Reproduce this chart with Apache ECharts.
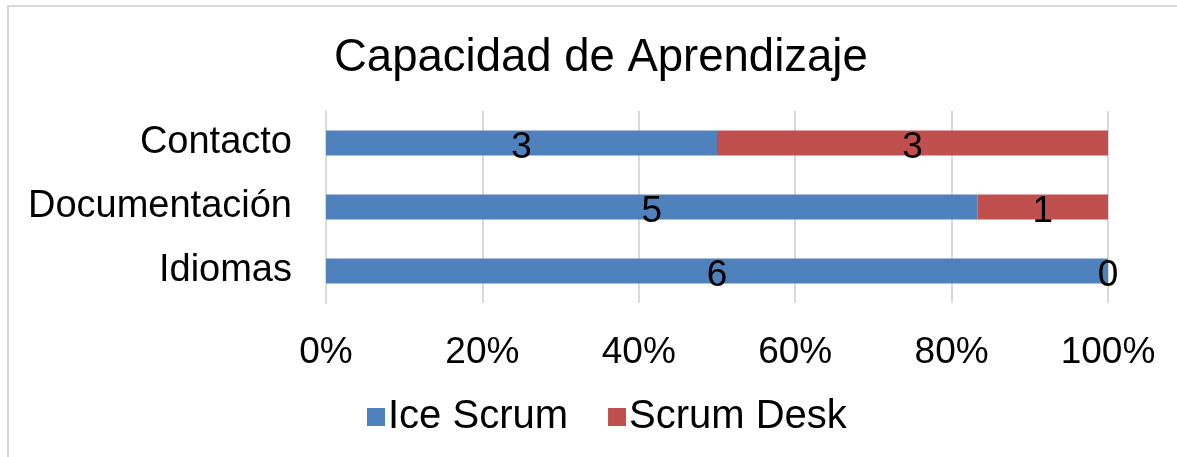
<!DOCTYPE html>
<html>
<head>
<meta charset="utf-8">
<script src="https://cdn.jsdelivr.net/npm/echarts@6/dist/echarts.min.js"></script>
<style>
html, body { margin: 0; padding: 0; background: #fff; overflow: hidden; }
#frame { position: absolute; left: 7px; top: 5px; width: 1300px; height: 600px;
         border-left: 2px solid #d9d9d9; border-top: 2px solid #d9d9d9; }
#chart { position: absolute; left: 0; top: 0; width: 1177px; height: 457px; }
</style>
</head>
<body>
<div id="frame"></div>
<div id="chart"></div>
<script>
// categorias de arriba hacia abajo
var categories = ['Contacto', 'Documentación', 'Idiomas'];
var seriesNames = ['Ice Scrum', 'Scrum Desk'];
// conteos por categoria
var iceScrum = [3, 5, 6];
var scrumDesk = [3, 1, 0];
var xTicks = [0, 20, 40, 60, 80, 100];

function toPercent(a, b) {
    var out = [];
    for (var i = 0; i < a.length; i++) {
        var total = a[i] + b[i];
        out.push({ value: total ? a[i] / total * 100 : 0, count: a[i] });
    }
    return out;
}

var fontFam = '"Liberation Sans", Arial, sans-serif';
var chart = echarts.init(document.getElementById('chart'));
var option = {
    animation: false,
    color: ['#4f81bd', '#c0504d'],
    textStyle: { fontFamily: fontFam, color: '#000' },
    title: {
        text: 'Capacidad de Aprendizaje',
        left: 329,
        top: 30,
        textStyle: { fontFamily: fontFam, fontSize: 45.5, fontWeight: 'normal', color: '#000' }
    },
    legend: {
        data: seriesNames,
        left: 362,
        top: 392,
        itemWidth: 18,
        itemHeight: 18,
        itemGap: 40,
        icon: 'rect',
        textStyle: { fontFamily: fontFam, fontSize: 40, color: '#000', padding: [0, 0, 0, -2] }
    },
    grid: { left: 326, right: 69, top: 111, bottom: 154 },
    xAxis: {
        type: 'value',
        min: xTicks[0],
        max: xTicks[xTicks.length - 1],
        interval: 20,
        axisLine: { show: false },
        axisTick: { show: false },
        splitLine: { lineStyle: { color: '#d9d9d9', width: 2 } },
        axisLabel: { formatter: '{value}%', fontSize: 37, color: '#000', fontFamily: fontFam, margin: 31 }
    },
    yAxis: {
        type: 'category',
        inverse: true,
        data: categories,
        axisLine: { lineStyle: { color: '#d9d9d9', width: 2 } },
        axisTick: { show: false },
        axisLabel: { fontSize: 38, color: '#000', fontFamily: fontFam, margin: 34, padding: [4, 0, 0, 0] }
    },
    series: [
        {
            name: seriesNames[0],
            type: 'bar',
            stack: 'total',
            barWidth: 25,
            data: toPercent(iceScrum, scrumDesk),
            label: {
                show: true, position: 'inside', fontSize: 37, color: '#000', fontFamily: fontFam,
                offset: [0, 5],
                formatter: function (p) { return p.data.count; }
            }
        },
        {
            name: seriesNames[1],
            type: 'bar',
            stack: 'total',
            barWidth: 25,
            data: toPercent(scrumDesk, iceScrum),
            label: {
                show: true, position: 'inside', fontSize: 37, color: '#000', fontFamily: fontFam,
                offset: [0, 5],
                formatter: function (p) { return p.data.count; }
            }
        }
    ]
};
chart.setOption(option);
</script>
</body>
</html>
